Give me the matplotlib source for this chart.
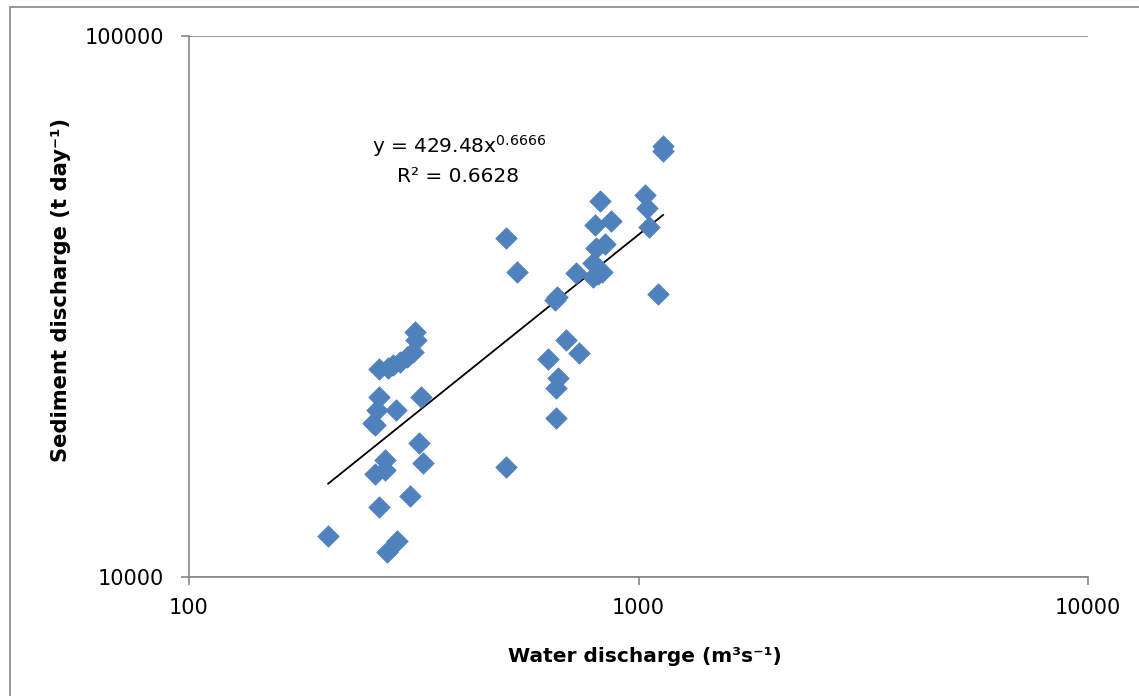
import numpy as np
import matplotlib
matplotlib.use('Agg')
import matplotlib.pyplot as plt
from matplotlib.patches import Rectangle

### data ###
water = [204, 276, 290, 265, 310, 259, 273, 273, 332, 325,
         257, 259, 262, 289, 265, 328, 265, 277, 284, 295,
         306, 315, 320, 318, 507, 507, 537, 655, 655, 662,
         629, 690, 737, 659, 652, 726, 792, 813, 830, 792,
         804, 842, 800, 869, 821, 1034, 1045, 1055, 1105, 1134,
         1134]
sediment = [11900, 11120, 11650, 13470, 14120, 15500, 15770, 16450, 16240, 17680,
            19270, 19100, 20360, 20360, 21510, 21510, 24230, 24340, 24650, 24970,
            25500, 26050, 27430, 28380, 15970, 42330, 36640, 19680, 22360, 23320,
            25290, 27430, 25940, 32930, 32510, 36480, 35860, 36330, 36640, 38060,
            40570, 41260, 44730, 45500, 49550, 50830, 48100, 44360, 33350, 62590,
            61270]
coef_a = 429.48
coef_b = 0.6666
r2 = 0.6628
### ### ### ### ###

blue = '#4F81BD'
grey = '#868686'

fig = plt.figure(figsize=(11.39, 6.96), dpi=100)
ax = fig.add_axes([189/1139, 1 - 577/696, (1088 - 189)/1139, (577 - 36)/696])

ax.scatter(water, sediment, marker='D', s=120, color=blue, edgecolors=blue,
           linewidths=0.5, zorder=3)

# power trend line from the equation shown on the chart
xs = np.linspace(min(water), max(water), 200)
ax.plot(xs, coef_a * xs ** coef_b, color='black', lw=1.3, zorder=2)

ax.set_xscale('log')
ax.set_yscale('log')
ax.set_xlim(100, 10000)
ax.set_ylim(10000, 100000)
ax.xaxis.set_major_locator(matplotlib.ticker.FixedLocator([100, 1000, 10000]))
ax.yaxis.set_major_locator(matplotlib.ticker.FixedLocator([10000, 100000]))
ax.xaxis.set_minor_locator(matplotlib.ticker.NullLocator())
ax.yaxis.set_minor_locator(matplotlib.ticker.NullLocator())
ax.xaxis.set_major_formatter(matplotlib.ticker.FuncFormatter(lambda v, p: '%d' % v))
ax.yaxis.set_major_formatter(matplotlib.ticker.FuncFormatter(lambda v, p: '%d' % v))
ax.tick_params(axis='both', direction='out', length=6, width=1.2, color=grey,
               labelsize=15, labelcolor='black')
ax.tick_params(axis='x', pad=9)
ax.tick_params(axis='y', pad=12)

ax.grid(axis='y', which='major', color=grey, lw=1.2)
ax.set_axisbelow(True)
for side in ['top', 'right']:
    ax.spines[side].set_visible(False)
for side in ['left', 'bottom']:
    ax.spines[side].set_color(grey)
    ax.spines[side].set_linewidth(1.2)

ax.set_xlabel('Water discharge (m³s⁻¹)', fontsize=14.5, fontweight='bold')
ax.set_ylabel('Sediment discharge (t day⁻¹)', fontsize=15.2, fontweight='bold')
ax.xaxis.set_label_coords(0.507, -0.129)
ax.yaxis.set_label_coords(-0.131, 0.530)

ax.text(0.300, 0.797, 'y = %.2fx$^{%.4f}$' % (coef_a, coef_b), transform=ax.transAxes,
        ha='center', va='center', fontsize=14.5)
ax.text(0.299, 0.741, 'R² = %.4f' % r2, transform=ax.transAxes,
        ha='center', va='center', fontsize=14.5)

# chart area border
fig.patches.append(Rectangle((10/1139, -0.1), 1.1, 1.1 - 7/696, transform=fig.transFigure,
                             fill=False, edgecolor=grey, lw=1.2))

fig.savefig('out.png', dpi=100)
